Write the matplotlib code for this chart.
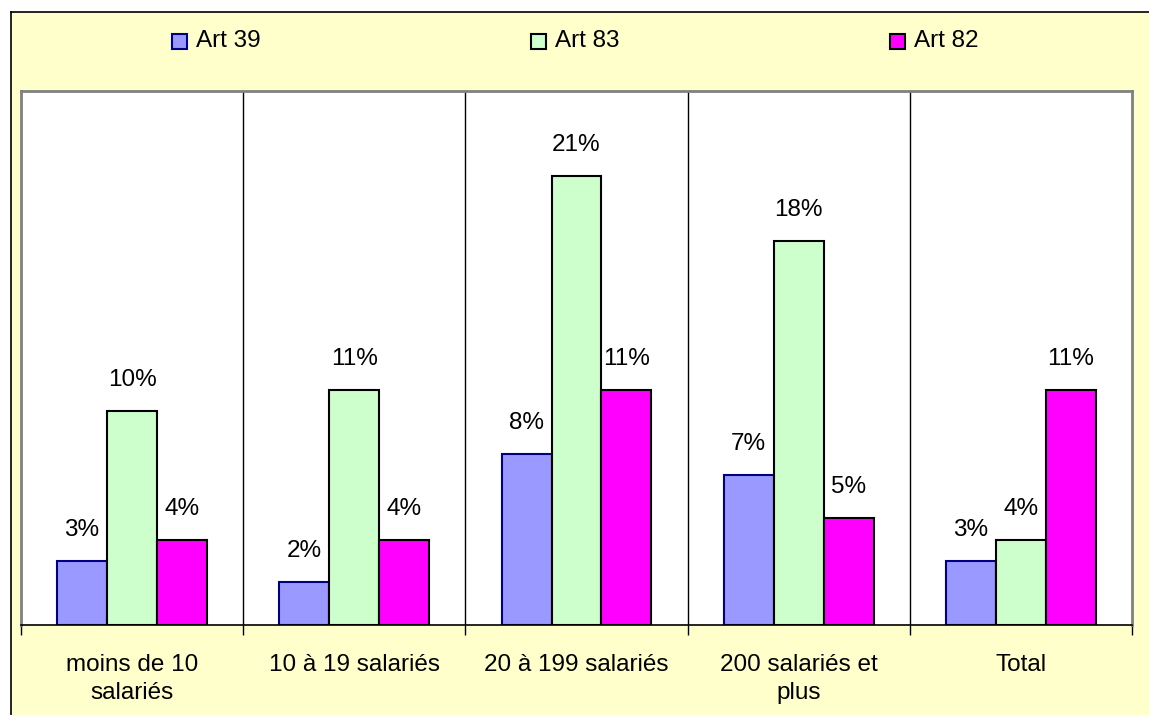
import matplotlib
matplotlib.use("Agg")
import matplotlib.pyplot as plt
from matplotlib.patches import Rectangle
from matplotlib.lines import Line2D
import numpy as np

categories = ["moins de 10\nsalariés", "10 à 19 salariés", "20 à 199 salariés",
              "200 salariés et\nplus", "Total"]
series_names = ["Art 39", "Art 83", "Art 82"]
art39 = [3, 2, 8, 7, 3]
art83 = [10, 11, 21, 18, 4]
art82 = [4, 4, 11, 5, 11]
series_values = [art39, art83, art82]

face_colors = ["#9999FF", "#CCFFCC", "#FF00FF"]
edge_colors = ["#000080", "#000000", "#000000"]

plt.rcParams['font.family'] = ['Liberation Sans', 'DejaVu Sans']
FS = 17.5

W, H = 1149, 715
fig = plt.figure(figsize=(W / 100, H / 100), dpi=100)
fig.patch.set_facecolor("white")
fig.patch.set_edgecolor("none")
fig.patch.set_linewidth(0)

# yellow chart panel with black border at top & left
panel = Rectangle((11 / W, -0.1), 1.2, 1.1 - 12 / H, transform=fig.transFigure,
                  facecolor="#FFFFCC", edgecolor="none", zorder=0)
fig.patches.append(panel)
fig.lines.append(Line2D([11 / W, 1.05], [1 - 12 / H, 1 - 12 / H], transform=fig.transFigure,
                        color="black", linewidth=1.2, zorder=1))
fig.lines.append(Line2D([11 / W, 11 / W], [-0.05, 1 - 12 / H], transform=fig.transFigure,
                        color="black", linewidth=1.2, zorder=1))

ax = fig.add_axes([21 / W, 1 - 625 / H, (1132 - 21) / W, (625 - 91) / H])
ax.set_facecolor("white")
ax.set_zorder(1)

n = len(categories)
x = np.arange(n)
bw = 0.225
offsets = [-bw, 0, bw]
for vals, off, fc, ec in zip(series_values, offsets, face_colors, edge_colors):
    bars = ax.bar(x + off, vals, width=bw, color=fc, edgecolor=ec, linewidth=1.5, zorder=3)
    for b, v in zip(bars, vals):
        ax.annotate(f"{v}%", (b.get_x() + b.get_width() / 2, b.get_height()),
                    xytext=(0, 18), textcoords="offset points",
                    ha="center", va="baseline", fontsize=FS, color="black")

ax.set_xlim(-0.5, n - 0.5)
ax.set_ylim(0, 25)

# category separators
for b in np.arange(0.5, n - 0.5, 1):
    ax.axvline(b, color="black", linewidth=1.0, zorder=2)

ax.set_yticks([])
ax.set_xticks(x)
ax.set_xticklabels(categories, fontsize=FS, linespacing=1.35)
ax.tick_params(axis="x", which="major", length=0, pad=21)
ax.set_xticks(np.arange(-0.5, n, 1), minor=True)
ax.tick_params(axis="x", which="minor", length=7, width=1.0, direction="out", color="black")

for s in ["left", "top", "right"]:
    ax.spines[s].set_color("#808080")
    ax.spines[s].set_linewidth(2)
ax.spines["bottom"].set_color("black")
ax.spines["bottom"].set_linewidth(1.2)
ax.spines["bottom"].set_zorder(4)

# legend across the top
marker_x = [172, 531, 890]
text_x = [196, 555, 914]
for name, fc, ec, mx, tx in zip(series_names, face_colors, edge_colors, marker_x, text_x):
    fig.patches.append(Rectangle((mx / W, 1 - 49 / H), 15 / W, 15 / H,
                                 transform=fig.transFigure, facecolor=fc,
                                 edgecolor=ec, linewidth=1.5, zorder=2))
    fig.text(tx / W, 1 - 41 / H, name, ha="left", va="center", fontsize=FS)

fig.savefig("out.png", dpi=100)
